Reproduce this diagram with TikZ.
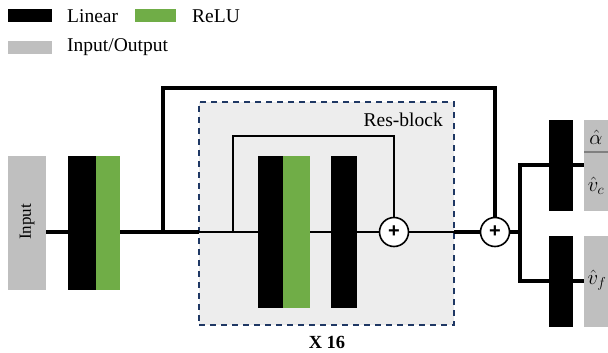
\documentclass[tikz,border=0pt]{standalone}
\usepackage{fontspec}
\setmainfont{Liberation Serif}
\newfontfamily\plusfont{Liberation Sans}
\usetikzlibrary{calc}
\definecolor{relu}{HTML}{70AD47}
\definecolor{iogrey}{HTML}{BFBFBF}
\definecolor{resfill}{HTML}{EDEDED}
\definecolor{navy}{HTML}{1F3864}
\definecolor{sepgrey}{HTML}{808080}
\begin{document}
\begin{tikzpicture}[x=1pt,y=-1pt,
  box/.style={rectangle,inner sep=0pt,outer sep=0pt,draw=none},
  lin/.style={box,fill=black},
  rel/.style={box,fill=relu},
  io/.style={box,fill=iogrey},
  lab/.style={inner sep=0pt,anchor=west,font=\fontsize{19.5}{22}\selectfont},
  mathlab/.style={inner sep=0pt,font=\fontsize{21}{22}\selectfont},
  thick line/.style={line width=3.5pt},
  thin line/.style={line width=1.2pt},
  plus/.style={circle,draw=black,fill=white,line width=1.6pt,minimum size=29pt,inner sep=0pt,font=\plusfont\bfseries\fontsize{20}{20}\selectfont}]
\useasboundingbox (0,0) rectangle (608,353);
% legend
\node[lin,minimum width=44pt,minimum height=13pt] (legl) at (30,15.5) {};
\node[lab] (legltext) at (67,16) {Linear};
\node[rel,minimum width=41pt,minimum height=13pt] (legr) at (155.5,15.5) {};
\node[lab] (legrtext) at (192,16) {ReLU};
\node[io,minimum width=44pt,minimum height=13pt] (legio) at (30,47.5) {};
\node[lab] (legiotext) at (67,47.5) {Input/Output};
% res-block background
\node[box,draw=navy,fill=resfill,dashed,dash pattern=on 6pt off 5pt,line width=1.5pt,minimum width=255pt,minimum height=223pt] (res) at (326.5,213.5) {};
\node[inner sep=0pt,anchor=east,font=\fontsize{19.5}{22}\selectfont] (restext) at (443,120) {Res-block};
\node[inner sep=0pt,font=\bfseries\fontsize{18.5}{20}\selectfont] (rep) at (327,342) {X 16};
% input
\node[io,minimum width=38pt,minimum height=134pt] (in) at (27,223) {};
\node[rotate=90,inner sep=0pt,font=\fontsize{17}{18}\selectfont] (intext) at (27,222) {Input};
% first block
\node[lin,minimum width=28pt,minimum height=134pt] (l1) at (82,223) {};
\node[rel,minimum width=24pt,minimum height=134pt] (g1) at (108,223) {};
% inner blocks
\node[lin,minimum width=25pt,minimum height=152pt] (l2) at (270.5,232) {};
\node[rel,minimum width=27pt,minimum height=152pt] (g2) at (296.5,232) {};
\node[lin,minimum width=26pt,minimum height=152pt] (l3) at (344,232) {};
% outputs
\node[io,minimum width=24pt,minimum height=91pt] (o1) at (596,165.5) {};
\node[io,minimum width=24pt,minimum height=91pt] (o2) at (596,281.5) {};
\coordinate (sepL) at (584,152);
\coordinate (sepR) at (608,152);
\draw[sepgrey,line width=1.5pt] (sepL) -- (sepR);
\node[mathlab] (alpha) at (596,137.5) {$\hat{\alpha}$};
\node[mathlab] (vc) at (596,186) {$\hat{v}_c$};
\node[mathlab] (vf) at (597,280) {$\hat{v}_f$};
% coordinates
\coordinate (resW) at (199,232);
\coordinate (resE) at (454,232);
\coordinate (br) at (163,232);
\coordinate (brTop) at (163,88);
\coordinate (skipB) at (233,232);
\coordinate (skipT) at (233,136);
\coordinate (split) at (520,232);
\coordinate (splitT) at (520,165);
\coordinate (splitB) at (520,281);
\coordinate (c1pos) at (394,232);
\coordinate (c2pos) at (495,232);
% connectors
\draw[thin line] (resW) -- (l2.west |- resW);
\draw[thin line] (g2.east |- resW) -- (l3.west |- resW);
\draw[thin line] (skipB) -- (skipT) -- (skipT -| c1pos) -- (c1pos);
\draw[thin line] (l3.east |- resW) -- (resE);
\node[plus] (c1) at (c1pos) {+};
\draw[thick line] (in.east |- br) -- (l1.west |- br);
\draw[thick line] (g1.east |- br) -- (resW);
\draw[thick line] (br) -- (brTop) -- (brTop -| c2pos) -- (c2pos);
\draw[thick line] (resE) -- (c2pos);
\node[plus] (c2) at (c2pos) {+};
\draw[thick line] (c2.east) -- (split);
\draw[line width=3.5pt,line cap=rect] (splitT) -- (splitB);
\draw[thick line] (splitT) -- (o1.west |- splitT);
\draw[thick line] (splitB) -- (o2.west |- splitB);
\node[lin,minimum width=24pt,minimum height=91pt] (l4) at (561,165.5) {};
\node[lin,minimum width=24pt,minimum height=91pt] (l5) at (561,281.5) {};
\end{tikzpicture}
\end{document}
